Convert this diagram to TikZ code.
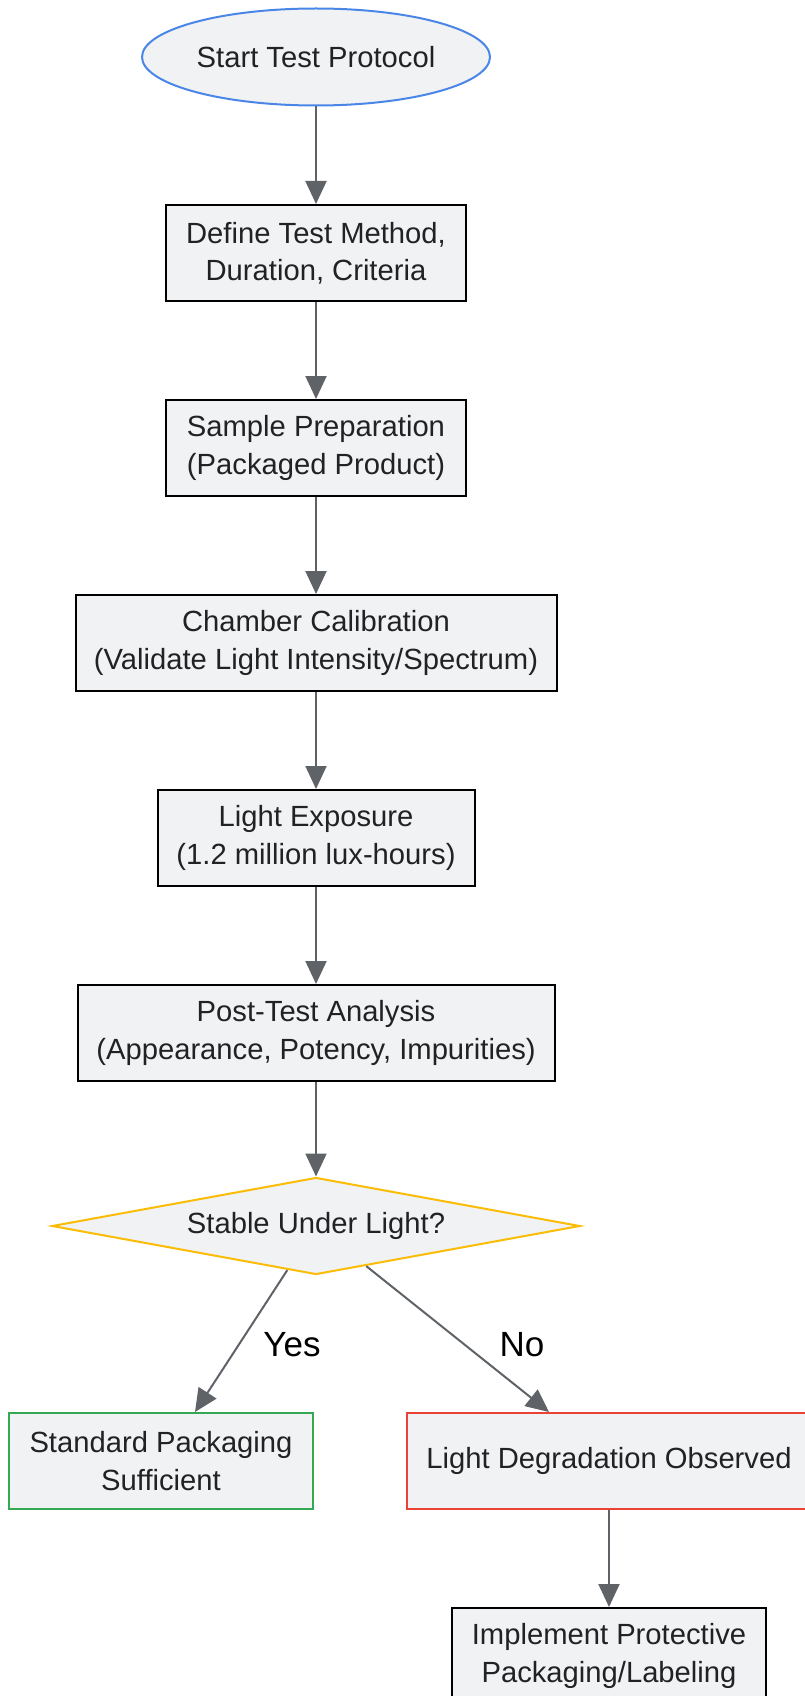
\documentclass[tikz,border=0pt]{standalone}
\usepackage{fontspec}
\setmainfont{Liberation Sans}
\usetikzlibrary{shapes.geometric,arrows.meta,calc}
\definecolor{fillg}{HTML}{F1F2F4}
\definecolor{txt}{HTML}{222222}
\definecolor{startblue}{HTML}{4A86E8}
\definecolor{decyellow}{HTML}{FBBC05}
\definecolor{okgreen}{HTML}{34A853}
\definecolor{badred}{HTML}{EA4335}
\definecolor{arrowgray}{HTML}{5F6368}
\tikzset{
  basebox/.style={fill=fillg, line width=1pt, align=center, text=txt,
    font=\fontsize{14.6}{18.6}\selectfont, inner sep=0pt},
  stepbox/.style={basebox, draw=black, rectangle, minimum height=48pt},
  startnode/.style={basebox, draw=startblue, ellipse, minimum width=174pt, minimum height=48.5pt},
  decnode/.style={basebox, draw=decyellow, diamond, minimum width=264pt, minimum height=48.5pt, aspect=5.4},
  arr/.style={draw=arrowgray, line width=1pt, -{Triangle[length=11.5pt,width=10.5pt]}},
  elabel/.style={font=\fontsize{17.5}{20}\selectfont, text=black}
}
\begin{document}
\begin{tikzpicture}[x=0.5pt,y=-0.5pt]
\useasboundingbox (0,0) rectangle (804,1696);
\node[startnode] (start) at (316,57) {Start Test Protocol};
\node[stepbox, minimum width=150pt] (define) at (316,253) {Define Test Method,\\Duration, Criteria};
\node[stepbox, minimum width=150pt] (prep) at (316,448) {Sample Preparation\\(Packaged Product)};
\node[stepbox, minimum width=240.5pt] (calib) at (316,643) {Chamber Calibration\\(Validate Light Intensity/Spectrum)};
\node[stepbox, minimum width=158.5pt] (expo) at (316,838) {Light Exposure\\(1.2 million lux-hours)};
\node[stepbox, minimum width=238.5pt] (post) at (316,1033) {Post-Test Analysis\\(Appearance, Potency, Impurities)};
\node[decnode] (dec) at (316,1226) {Stable Under Light?};
\node[stepbox, draw=okgreen, minimum width=152pt] (std) at (161,1461) {Standard Packaging\\Sufficient};
\node[stepbox, draw=badred, minimum width=202pt] (deg) at (609,1461) {Light Degradation Observed};
\node[stepbox, minimum width=157pt] (impl) at (609,1656) {Implement Protective\\Packaging/Labeling};
\draw[arr] (start) -- (define);
\draw[arr] (define) -- (prep);
\draw[arr] (prep) -- (calib);
\draw[arr] (calib) -- (expo);
\draw[arr] (expo) -- (post);
\draw[arr] (post) -- (dec);
\draw[arr] (dec) -- ($(std.north)+(34,0)$);
\draw[arr] (dec) -- ($(deg.north)+(-60,0)$);
\draw[arr] (deg) -- (impl);
\node[elabel] (yes) at (292,1345) {Yes};
\node[elabel] (no) at (522,1345) {No};
\end{tikzpicture}
\end{document}
